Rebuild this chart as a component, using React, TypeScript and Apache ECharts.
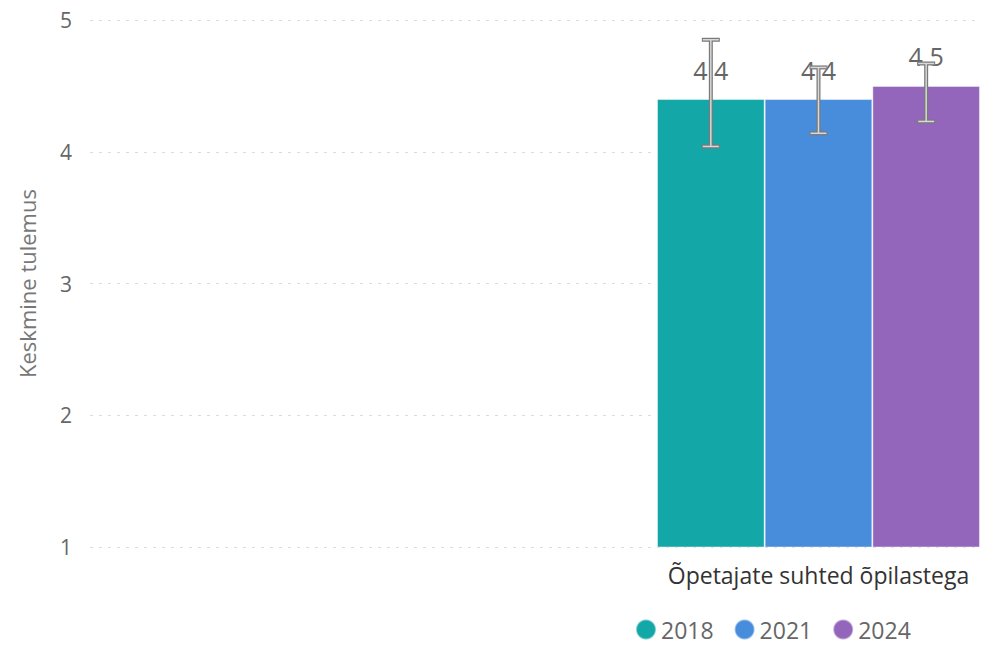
import React, { useEffect, useRef } from "react";
import * as echarts from "echarts";

const categories = ["Õpetajate suhted õpilastega"];
const years = ["2018", "2021", "2024"];
const colors = ["#13A7A7", "#488CDC", "#9366BC"];
const means = [4.4, 4.4, 4.5];
const errLow = [4.04, 4.14, 4.23];
const errHigh = [4.85, 4.64, 4.67];
const yTicks = [1, 2, 3, 4, 5];

const FONT = "'Open Sans', 'Noto Sans', sans-serif";

export default function App() {
  const ref = useRef<HTMLDivElement>(null);
  useEffect(() => {
    if (!ref.current) return;
    const chart = echarts.init(ref.current, undefined, { renderer: "svg" });
    const n = years.length;
    const barSeries = years.map((y, i) => ({
      name: y,
      type: "bar",
      xAxisIndex: 1,
      yAxisIndex: 1,
      barGap: "0%",
      barCategoryGap: "0%",
      data: [means[i]],
      itemStyle: { color: colors[i], borderColor: "rgba(255,255,255,0.45)", borderWidth: 1 },
      label: {
        show: true,
        position: "top",
        distance: 17,
        fontSize: 25,
        color: "#666",
        fontFamily: FONT,
        formatter: (p: any) => p.value.toFixed(1),
      },
      z: 2,
    }));
    const errSeries = years.map((y, i) => ({
      name: y + " err",
      type: "custom",
      xAxisIndex: 1,
      yAxisIndex: 1,
      z: 5,
      silent: true,
      data: [[0, errLow[i], errHigh[i]]],
      renderItem: (params: any, api: any) => {
        const c = api.value(0);
        const lo = api.coord([c, api.value(1)]);
        const hi = api.coord([c, api.value(2)]);
        const band = api.size([1, 0])[0];
        const x = lo[0] + (i - (n - 1) / 2) * (band / n);
        const cap = 9;
        const seg = (x1: number, y1: number, x2: number, y2: number) => [
          { type: "line", shape: { x1, y1, x2, y2 }, style: { stroke: "#7a7a7a", lineWidth: 4 } },
        ];
        const segIn = (x1: number, y1: number, x2: number, y2: number) => [
          { type: "line", shape: { x1, y1, x2, y2 }, style: { stroke: "#d8d8d8", lineWidth: 1.5 } },
        ];
        return {
          type: "group",
          children: [
            ...seg(x, lo[1], x, hi[1]),
            ...seg(x - cap, lo[1], x + cap, lo[1]),
            ...seg(x - cap, hi[1], x + cap, hi[1]),
            ...segIn(x, lo[1], x, hi[1]),
            ...segIn(x - cap + 1, lo[1], x + cap - 1, lo[1]),
            ...segIn(x - cap + 1, hi[1], x + cap - 1, hi[1]),
          ],
        };
      },
    }));
    chart.setOption({
      animation: false,
      textStyle: { fontFamily: FONT },
      legend: {
        data: years,
        left: 630,
        top: 613,
        icon: "circle",
        itemWidth: 20,
        itemHeight: 20,
        itemGap: 20,
        textStyle: { fontSize: 23, color: "#666", fontFamily: FONT },
      },
      grid: [
        { left: 90, right: 9, top: 20, bottom: 99 },
        { left: 657, right: 9, top: 20, bottom: 99 },
      ],
      xAxis: [
        { type: "value", gridIndex: 0, show: false, min: 0, max: 1 },
        {
          type: "category",
          gridIndex: 1,
          data: categories,
          axisLine: { show: false },
          axisTick: { show: false },
          axisLabel: { fontSize: 23, color: "#333", margin: 16, fontFamily: FONT },
        },
      ],
      yAxis: [
        {
          type: "value",
          gridIndex: 0,
          min: 1,
          max: 5,
          interval: 1,
          axisLine: { show: false },
          axisTick: { show: false },
          axisLabel: {
            fontSize: 21,
            color: "#666",
            margin: 18,
            fontFamily: FONT,
            formatter: (v: number) => (yTicks.includes(v) ? String(v) : ""),
          },
          splitLine: { lineStyle: { color: "#dcdcdc", type: [3, 6], width: 1 } },
          name: "Keskmine tulemus",
          nameLocation: "middle",
          nameRotate: 90,
          nameGap: 52,
          nameTextStyle: { fontSize: 22, color: "#777", fontFamily: FONT },
        },
        { type: "value", gridIndex: 1, min: 1, max: 5, interval: 1, show: false, splitLine: { show: false } },
      ],
      series: [...barSeries, ...errSeries],
    });
    return () => chart.dispose();
  }, []);
  return <div ref={ref} style={{ width: 989, height: 646, position: "absolute", left: 0, top: 0 }} />;
}
